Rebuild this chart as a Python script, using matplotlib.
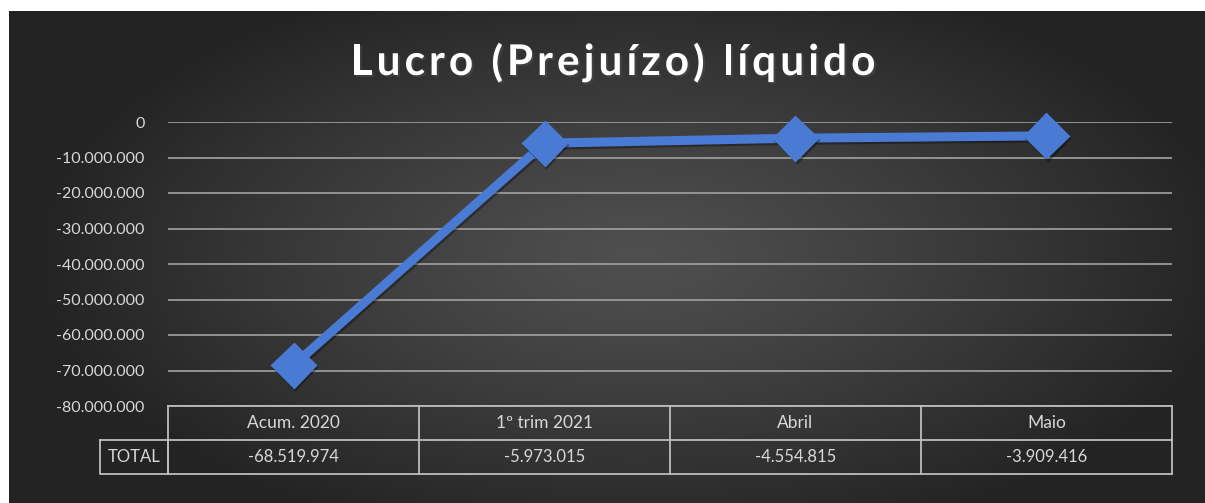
import numpy as np
import matplotlib
matplotlib.use("Agg")
import matplotlib.pyplot as plt
import matplotlib.patheffects as pe
from matplotlib.ticker import FuncFormatter, MultipleLocator

# dados
categorias = ["Acum. 2020", "1º trim 2021", "Abril", "Maio"]
valores = [-68519974, -5973015, -4554815, -3909416]
rotulo_linha = "TOTAL"
titulo = "Lucro (Prejuízo) líquido"

plt.rcParams['font.family'] = ['Lato', 'DejaVu Sans']

W, H = 1205, 503
fig = plt.figure(figsize=(W / 100, H / 100), dpi=100)
fig.patch.set_facecolor('white')

# fundo com gradiente radial
bg = fig.add_axes([9 / W, 0, 1 - 9 / W, 1 - 11 / H])
bg.set_axis_off()
gx, gy = np.meshgrid(np.linspace(-1, 1, 600), np.linspace(-1, 1, 250))
r = np.sqrt(((gx - 0.05) / 1.0) ** 2 + (gy / 1.2) ** 2)
r = np.clip(r, 0, 1)
shade = 0.31 - 0.17 * r ** 1.2
img = np.dstack([shade, shade, shade])
bg.imshow(img, aspect='auto', extent=(0, 1, 0, 1), interpolation='bilinear')
bg.set_xlim(0, 1)
bg.set_ylim(0, 1)

# eixo principal
left, right = 168 / W, 1172 / W
bottom, top = 1 - 406 / H, 1 - 122 / H
ax = fig.add_axes([left, bottom, right - left, top - bottom])
ax.set_facecolor('none')
for s in ax.spines.values():
    s.set_visible(False)

x = np.arange(len(categorias))
ax.plot(x, valores, color='#4a7bd4', lw=6.5, solid_capstyle='round', zorder=3,
        marker='D', ms=22, mfc='#4a7bd4', mec='#4a7bd4', mew=2, clip_on=False,
        path_effects=[pe.SimpleLineShadow(offset=(1, -1.5), alpha=0.35), pe.Normal()])

ax.set_xlim(-0.5, len(categorias) - 0.5)
ax.set_ylim(-80000000, 0)
ax.yaxis.set_major_locator(MultipleLocator(10000000))
ax.yaxis.set_major_formatter(FuncFormatter(lambda v, p: f"{int(v):,}".replace(",", ".")))
ax.grid(axis='y', color='#9a9a9a', lw=1.3)
ax.set_axisbelow(True)
ax.tick_params(axis='y', length=0, pad=17, labelsize=11.5, labelcolor='#d8d8d8')
ax.set_xticks([])

# tabela de dados abaixo do eixo
row_h = 34 / (406 - 122)
lc = '#bdbdbd'
tr = ax.get_xaxis_transform()
n = len(categorias)
for yy in [0, -row_h, -2 * row_h]:
    ax.plot([-0.5, n - 0.5], [yy, yy], transform=tr, color=lc, lw=1.3, clip_on=False)
for i in range(n + 1):
    ax.plot([i - 0.5, i - 0.5], [0, -2 * row_h], transform=tr, color=lc, lw=1.3, clip_on=False)
for i, (c, v) in enumerate(zip(categorias, valores)):
    ax.text(i, -row_h / 2, c, transform=tr, ha='center', va='center',
            color='#d8d8d8', fontsize=12.5)
    ax.text(i, -1.5 * row_h, f"{v:,}".replace(",", "."), transform=tr, ha='center',
            va='center', color='#d8d8d8', fontsize=12)

# célula TOTAL
ta = ax.transAxes
x0 = (100 / W - left) / (right - left)
ax.plot([x0, 0, 0, x0, x0], [-row_h, -row_h, -2 * row_h, -2 * row_h, -row_h],
        transform=ta, color=lc, lw=1.3, clip_on=False)
ax.text(x0 / 2, -1.5 * row_h, rotulo_linha, transform=ta, ha='center', va='center',
        color='#d8d8d8', fontsize=12)

# título com espaçamento entre letras
renderer = fig.canvas.get_renderer()
spacing = 4.0
tprops = dict(color='white', fontsize=30.5, fontweight='bold', va='center', ha='left',
              path_effects=[pe.withSimplePatchShadow(offset=(1.5, -1.5), alpha=0.5)])
larguras = []
for ch in titulo:
    t = fig.text(0, 0, ch, **tprops)
    larguras.append(t.get_window_extent(renderer).width if ch != ' ' else None)
    t.remove()
sp = fig.text(0, 0, 'a a', **tprops)
w_aa = sp.get_window_extent(renderer).width
sp.remove()
sp = fig.text(0, 0, 'aa', **tprops)
w_space = w_aa - sp.get_window_extent(renderer).width
sp.remove()
larguras = [w if w is not None else w_space for w in larguras]
total = sum(larguras) + spacing * (len(titulo) - 1)
xp = 613 - total / 2
for ch, w in zip(titulo, larguras):
    fig.text(xp / W, 1 - 63 / H, ch, **tprops)
    xp += w + spacing

fig.savefig('out.png', dpi=100)
